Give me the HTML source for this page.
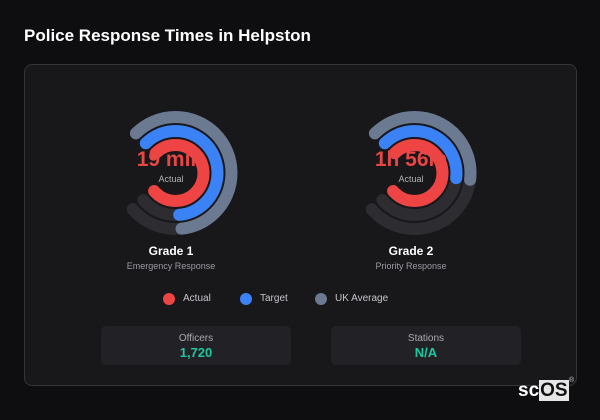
<!DOCTYPE html>
<html><head><meta charset="utf-8"><style>
body{margin:0;width:600px;height:420px;background:#0e0e11;font-family:"Liberation Sans",sans-serif;position:relative;overflow:hidden}
.t{position:absolute;white-space:nowrap}
svg{position:absolute;left:0;top:0}
</style></head><body>
<div class="t" style="left:24px;top:26px;font-size:17px;font-weight:bold;color:#fff">Police Response Times in Helpston</div>
<div style="position:absolute;left:24px;top:64px;width:551px;height:320px;background:#18181b;border:1px solid #34343a;border-radius:8px"></div>

<svg width="600" height="420">
<g fill="none" stroke-width="12" stroke-linecap="round">
 <g transform="rotate(-135 175.5 173)">
  <circle cx="175.5" cy="173" r="28" pathLength="360" stroke="#ef4444" stroke-dasharray="275 400"/>
 </g>
 <g transform="rotate(-135 414.5 173)">
  <circle cx="414.5" cy="173" r="28" pathLength="360" stroke="#ef4444" stroke-dasharray="275 400"/>
 </g>
</g>
</svg>

<div class="t" style="left:110px;top:148px;width:120px;text-align:center;font-size:21px;font-weight:bold;color:#e84545">19 min</div>
<div class="t" style="left:111px;top:174px;width:120px;text-align:center;font-size:9px;color:#b0b0b6">Actual</div>
<div class="t" style="left:351px;top:148px;width:120px;text-align:center;font-size:21px;font-weight:bold;color:#e84545">1h 56m</div>
<div class="t" style="left:351px;top:174px;width:120px;text-align:center;font-size:9px;color:#b0b0b6">Actual</div>

<svg width="600" height="420">
<g fill="none" stroke-width="12" stroke-linecap="round">
 <g transform="rotate(-135 175.5 173)">
  <circle cx="175.5" cy="173" r="56" pathLength="360" stroke="#2c2c31" stroke-dasharray="275 400"/>
  <circle cx="175.5" cy="173" r="42" pathLength="360" stroke="#2c2c31" stroke-dasharray="275 400"/>
  <circle cx="175.5" cy="173" r="56" pathLength="360" stroke="#6b7a90" stroke-dasharray="219 400"/>
  <circle cx="175.5" cy="173" r="42" pathLength="360" stroke="#3b82f6" stroke-dasharray="220 400"/>
 </g>
 <g transform="rotate(-135 414.5 173)">
  <circle cx="414.5" cy="173" r="56" pathLength="360" stroke="#2c2c31" stroke-dasharray="275 400"/>
  <circle cx="414.5" cy="173" r="42" pathLength="360" stroke="#2c2c31" stroke-dasharray="275 400"/>
  <circle cx="414.5" cy="173" r="56" pathLength="360" stroke="#6b7a90" stroke-dasharray="142 400"/>
  <circle cx="414.5" cy="173" r="42" pathLength="360" stroke="#3b82f6" stroke-dasharray="142 400"/>
 </g>
</g>
<circle cx="169" cy="299" r="6" fill="#ef4444"/>
<circle cx="246" cy="299" r="6" fill="#3b82f6"/>
<circle cx="321" cy="299" r="6" fill="#6b7a90"/>
</svg>

<div class="t" style="left:111px;top:244px;width:120px;text-align:center;font-size:12px;font-weight:bold;color:#fff">Grade 1</div>
<div class="t" style="left:111px;top:261px;width:120px;text-align:center;font-size:9px;color:#9a9aa2">Emergency Response</div>
<div class="t" style="left:351px;top:244px;width:120px;text-align:center;font-size:12px;font-weight:bold;color:#fff">Grade 2</div>
<div class="t" style="left:351px;top:261px;width:120px;text-align:center;font-size:9px;color:#9a9aa2">Priority Response</div>

<div class="t" style="left:183px;top:293px;font-size:10px;color:#c4c4ca">Actual</div>
<div class="t" style="left:260px;top:293px;font-size:10px;color:#c4c4ca">Target</div>
<div class="t" style="left:335px;top:293px;font-size:10px;color:#c4c4ca">UK Average</div>

<div style="position:absolute;left:101px;top:326px;width:190px;height:39px;background:#222226;border-radius:5px"></div>
<div style="position:absolute;left:331px;top:326px;width:190px;height:39px;background:#222226;border-radius:5px"></div>
<div class="t" style="left:101px;top:333px;width:190px;text-align:center;font-size:10px;color:#a8a8b0">Officers</div>
<div class="t" style="left:101px;top:345px;width:190px;text-align:center;font-size:13px;font-weight:bold;color:#1fc6a0">1,720</div>
<div class="t" style="left:331px;top:333px;width:190px;text-align:center;font-size:10px;color:#a8a8b0">Stations</div>
<div class="t" style="left:331px;top:345px;width:190px;text-align:center;font-size:13px;font-weight:bold;color:#1fc6a0">N/A</div>

<div class="t" style="left:518px;top:380px;font-size:19px;font-weight:bold;color:#fff">sc<span style="background:#e6e6e6;color:#111;padding:0 1px">OS</span></div>
<div class="t" style="left:569px;top:377px;font-size:7px;color:#ccc">®</div>
</body></html>
